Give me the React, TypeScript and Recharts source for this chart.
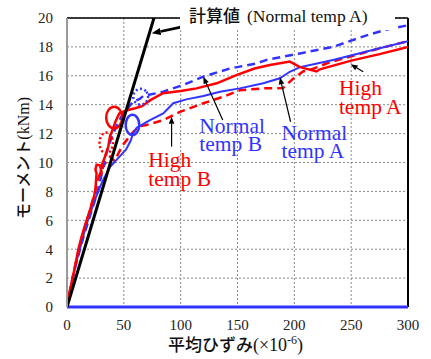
import React from 'react';
import { LineChart, Line, XAxis, YAxis, CartesianGrid, ReferenceLine, ReferenceDot } from 'recharts';

const xTicks = [0, 50, 100, 150, 200, 250, 300];
const yTicks = [0, 2, 4, 6, 8, 10, 12, 14, 16, 18, 20];

const calcLine = [{ x: 0, y: 0 }, { x: 76.5, y: 20 }];

const highTempA = [
  { x: 0, y: 0 }, { x: 1.5, y: 0.7 }, { x: 3, y: 1.3 }, { x: 5, y: 2.0 }, { x: 7.5, y: 3.0 }, { x: 10, y: 4.0 },
  { x: 13, y: 4.9 }, { x: 16, y: 5.7 }, { x: 19.5, y: 6.5 }, { x: 22, y: 7.2 }, { x: 24, y: 7.7 }, { x: 25, y: 8.1 },
  { x: 25.5, y: 8.7 }, { x: 26, y: 9.25 }, { x: 25, y: 9.5 }, { x: 26, y: 9.85 }, { x: 29, y: 9.8 }, { x: 30.5, y: 9.3 },
  { x: 29, y: 9.1 }, { x: 31, y: 9.9 }, { x: 33.4, y: 10.4 }, { x: 36.3, y: 11.1 }, { x: 37.8, y: 11.8 }, { x: 40.7, y: 12.4 },
  { x: 43, y: 12.9 }, { x: 46, y: 13.4 }, { x: 52, y: 13.6 }, { x: 60, y: 13.75 }, { x: 66, y: 13.9 }, { x: 73, y: 14.3 },
  { x: 84.4, y: 14.8 }, { x: 100, y: 14.95 }, { x: 114, y: 15.13 }, { x: 131.7, y: 15.48 }, { x: 149, y: 16.05 },
  { x: 165, y: 16.5 }, { x: 178.5, y: 16.75 }, { x: 196, y: 16.98 }, { x: 205, y: 16.6 }, { x: 219.6, y: 16.3 },
  { x: 222.5, y: 16.45 }, { x: 250, y: 17.05 }, { x: 275, y: 17.5 }, { x: 300, y: 18.0 },
];

const normalTempA = [
  { x: 0, y: 0 }, { x: 2, y: 0.8 }, { x: 4.5, y: 1.8 }, { x: 7, y: 2.7 }, { x: 9.5, y: 3.5 }, { x: 12, y: 4.2 },
  { x: 15, y: 5.1 }, { x: 18, y: 5.9 }, { x: 21, y: 6.6 }, { x: 24, y: 7.3 }, { x: 27, y: 7.9 }, { x: 29.5, y: 8.4 },
  { x: 32.5, y: 8.9 }, { x: 38, y: 9.7 }, { x: 45, y: 10.3 }, { x: 52, y: 10.9 }, { x: 56, y: 11.5 }, { x: 58, y: 12.0 },
  { x: 61.3, y: 12.4 }, { x: 73, y: 12.94 }, { x: 84.7, y: 13.4 }, { x: 93.5, y: 14.1 }, { x: 105, y: 14.37 },
  { x: 120, y: 14.6 }, { x: 134.6, y: 14.9 }, { x: 152, y: 15.13 }, { x: 172.7, y: 15.48 }, { x: 187.3, y: 15.83 },
  { x: 196, y: 16.28 }, { x: 205, y: 16.6 }, { x: 220, y: 16.85 }, { x: 234, y: 17.1 }, { x: 251.5, y: 17.44 },
  { x: 275, y: 17.9 }, { x: 300, y: 18.4 },
];

const highTempB = [
  { x: 0, y: 0 }, { x: 2, y: 0.9 }, { x: 4.5, y: 1.9 }, { x: 7, y: 2.8 }, { x: 10, y: 3.8 }, { x: 13, y: 4.8 },
  { x: 16, y: 5.6 }, { x: 19, y: 6.4 }, { x: 22, y: 7.2 }, { x: 25, y: 8.1 }, { x: 28, y: 9.0 }, { x: 31, y: 9.6 },
  { x: 34, y: 10.0 }, { x: 38, y: 10.4 }, { x: 42, y: 10.1 }, { x: 45, y: 10.6 }, { x: 49, y: 11.2 }, { x: 53, y: 11.6 },
  { x: 58, y: 12.1 }, { x: 64, y: 12.5 }, { x: 70, y: 12.6 }, { x: 79, y: 12.8 }, { x: 84.7, y: 12.94 },
  { x: 99.4, y: 13.5 }, { x: 120, y: 14.1 }, { x: 137.5, y: 14.55 }, { x: 152, y: 15.0 }, { x: 172.7, y: 15.13 },
  { x: 190, y: 15.15 }, { x: 199, y: 15.8 }, { x: 207.6, y: 16.3 }, { x: 213.7, y: 16.4 }, { x: 230, y: 16.9 },
  { x: 250, y: 17.35 }, { x: 275, y: 17.9 }, { x: 300, y: 18.4 },
];

const normalTempB = [
  { x: 0, y: 0 }, { x: 2.5, y: 1.0 }, { x: 5, y: 2.0 }, { x: 8, y: 3.0 }, { x: 11.5, y: 4.0 }, { x: 15, y: 5.0 },
  { x: 19, y: 6.0 }, { x: 23, y: 7.0 }, { x: 27, y: 8.0 }, { x: 30, y: 9.0 }, { x: 32.5, y: 10.0 }, { x: 36, y: 11.0 },
  { x: 40, y: 11.9 }, { x: 44, y: 12.6 }, { x: 48, y: 13.2 }, { x: 53, y: 13.7 }, { x: 58, y: 14.2 }, { x: 64, y: 14.4 },
  { x: 67, y: 14.6 }, { x: 79, y: 14.8 }, { x: 84.7, y: 14.9 }, { x: 102, y: 15.36 }, { x: 120, y: 15.94 },
  { x: 143, y: 16.5 }, { x: 166.8, y: 16.86 }, { x: 175.6, y: 17.1 }, { x: 205, y: 17.55 }, { x: 234, y: 18.0 },
  { x: 263.6, y: 18.8 }, { x: 281, y: 19.2 }, { x: 300, y: 19.5 },
];

// loops (closed B-spline control points)
const redLoop = [
  { x: 49.3, y: 13.11 }, { x: 47.0, y: 13.7 }, { x: 41.5, y: 13.94 }, { x: 36.0, y: 13.7 },
  { x: 33.7, y: 13.11 }, { x: 36.0, y: 12.52 }, { x: 41.5, y: 12.28 }, { x: 47.0, y: 12.52 },
];
const blueLoop = [
  { x: 64.2, y: 12.6 }, { x: 62.3, y: 13.15 }, { x: 57.6, y: 13.38 }, { x: 52.9, y: 13.15 },
  { x: 51.0, y: 12.6 }, { x: 52.9, y: 12.05 }, { x: 57.6, y: 11.82 }, { x: 62.3, y: 12.05 },
];
const redDotLoop = [
  { x: 41.0, y: 11.35 }, { x: 39.1, y: 11.91 }, { x: 34.5, y: 12.15 }, { x: 29.9, y: 11.91 },
  { x: 28.0, y: 11.35 }, { x: 29.9, y: 10.79 }, { x: 34.5, y: 10.55 }, { x: 39.1, y: 10.79 },
];
const blueDotLoop = [
  { x: 72, y: 14.55 }, { x: 69.9, y: 14.98 }, { x: 64.8, y: 15.16 }, { x: 59.7, y: 14.98 },
  { x: 57.6, y: 14.55 }, { x: 59.7, y: 14.12 }, { x: 64.8, y: 13.94 }, { x: 69.9, y: 14.12 },
];

// annotation arrows: [tail, head]
const calcArrow = [{ x: 102.3, y: 19.4 }, { x: 74.5, y: 18.94 }];
const arrowHighA = [{ x: 260.6, y: 16.28 }, { x: 249.5, y: 16.8 }];
const arrowNormalA = [{ x: 196.7, y: 12.82 }, { x: 187.3, y: 15.9 }];
const arrowNormalB = [{ x: 137, y: 12.94 }, { x: 119.9, y: 15.94 }];
const arrowHighB = [{ x: 92, y: 11.1 }, { x: 92, y: 13.17 }];

// annotation texts
const labelHighA = { x: 239.2, y: 14.67, lines: ['High', 'temp A'] };
const labelNormalA = { x: 188.8, y: 11.56, lines: ['Normal', 'temp A'] };
const labelNormalB = { x: 116.4, y: 12.06, lines: ['Normal', 'temp B'] };
const labelHighB = { x: 71.5, y: 9.67, lines: ['High', 'temp B'] };

const RED = '#ff0000';
const BLUE = '#3333ff';
const SERIF = 'Liberation Serif, DejaVu Serif, serif';
const CJK = 'Noto Sans CJK JP, sans-serif';

const arrowShape = (w: number, head: number) => (props: any) => {
  const { x1, y1, x2, y2 } = props;
  if ([x1, y1, x2, y2].some((v) => typeof v !== 'number' || isNaN(v))) return <g />;
  const ang = Math.atan2(y2 - y1, x2 - x1);
  const hx = x2 - head * Math.cos(ang);
  const hy = y2 - head * Math.sin(ang);
  const px = Math.sin(ang) * head * 0.4;
  const py = -Math.cos(ang) * head * 0.4;
  return (
    <g>
      <line x1={x1} y1={y1} x2={hx} y2={hy} stroke="#000" strokeWidth={w} />
      <polygon points={`${x2},${y2} ${hx + px},${hy + py} ${hx - px},${hy - py}`} fill="#000" />
    </g>
  );
};

const textShape = (lines: string[], color: string) => (p: any) => (
  <text x={p.cx} y={p.cy} fill={color} style={{ fontFamily: SERIF, fontSize: 21.5 }}>
    {lines.map((l, i) => (
      <tspan key={i} x={p.cx} dy={i === 0 ? 0 : 18.5}>
        {l}
      </tspan>
    ))}
  </text>
);

export default function App() {
  const lineCommon = { dataKey: 'y', dot: false, activeDot: false, isAnimationActive: false } as const;
  return (
    <div style={{ position: 'absolute', left: 0, top: 0, width: 431, height: 359, background: '#fff', fontFamily: SERIF }}>
      <LineChart width={431} height={359} margin={{ top: 18, right: 23, bottom: 0, left: 0 }} style={{ fontFamily: SERIF }}>
        <CartesianGrid stroke="#8a8a8a" strokeDasharray="2 2" strokeWidth={1} />
        <XAxis
          type="number"
          dataKey="x"
          domain={[0, 300]}
          ticks={xTicks}
          interval={0}
          height={52}
          axisLine={false}
          tickLine={false}
          tickSize={0}
          tickMargin={12}
          allowDataOverflow
          tick={{ fontSize: 15, fill: '#222', style: { fontFamily: SERIF } }}
        />
        <YAxis
          type="number"
          dataKey="y"
          domain={[0, 20]}
          ticks={yTicks}
          interval={0}
          width={67}
          axisLine={{ stroke: '#9a9a9a', strokeWidth: 2 }}
          tickLine={false}
          tickSize={0}
          tickMargin={14}
          allowDataOverflow
          tick={{ fontSize: 15, fill: '#222', style: { fontFamily: SERIF } }}
        />
        <ReferenceLine y={20} stroke="#000" strokeWidth={1.5} />
        <ReferenceLine x={300} stroke="#000" strokeWidth={2} />
        <ReferenceLine y={0} stroke={BLUE} strokeWidth={3} />

        <Line {...lineCommon} data={highTempB} type="linear" stroke={RED} strokeWidth={2.5} strokeDasharray="8 5" />
        <Line {...lineCommon} data={normalTempB} type="linear" stroke={BLUE} strokeWidth={2.5} strokeDasharray="8 5" />
        <Line {...lineCommon} data={normalTempA} type="linear" stroke={BLUE} strokeWidth={2} />
        <Line {...lineCommon} data={highTempA} type="linear" stroke={RED} strokeWidth={2.5} />
        <Line {...lineCommon} data={redLoop} type="basisClosed" stroke={RED} strokeWidth={2.5} />
        <Line {...lineCommon} data={blueLoop} type="basisClosed" stroke={BLUE} strokeWidth={2.5} />
        <Line {...lineCommon} data={redDotLoop} type="basisClosed" stroke={RED} strokeWidth={2.5} strokeDasharray="2 2.5" />
        <Line {...lineCommon} data={blueDotLoop} type="basisClosed" stroke={BLUE} strokeWidth={2.5} strokeDasharray="2 2.5" />
        <Line {...lineCommon} data={calcLine} type="linear" stroke="#000" strokeWidth={3} />

        <ReferenceLine segment={calcArrow} shape={arrowShape(2.7, 9)} />
        <ReferenceLine segment={arrowHighA} shape={arrowShape(1.2, 7)} />
        <ReferenceLine segment={arrowNormalA} shape={arrowShape(1.2, 7)} />
        <ReferenceLine segment={arrowNormalB} shape={arrowShape(1.2, 7)} />
        <ReferenceLine segment={arrowHighB} shape={arrowShape(1.2, 7)} />

        <ReferenceDot x={labelHighA.x} y={labelHighA.y} r={0} shape={textShape(labelHighA.lines, RED)} />
        <ReferenceDot x={labelNormalA.x} y={labelNormalA.y} r={0} shape={textShape(labelNormalA.lines, BLUE)} />
        <ReferenceDot x={labelNormalB.x} y={labelNormalB.y} r={0} shape={textShape(labelNormalB.lines, BLUE)} />
        <ReferenceDot x={labelHighB.x} y={labelHighB.y} r={0} shape={textShape(labelHighB.lines, RED)} />
      </LineChart>
      <svg
        width={431}
        height={359}
        style={{ position: 'absolute', left: 0, top: 0, pointerEvents: 'none' }}
      >
        <rect x={180} y={0} width={215} height={30} fill="#fff" />
        <text y={21.7} fill="#111">
          <tspan x={189} style={{ fontFamily: CJK, fontSize: 17, fontWeight: 500 }}>計算値</tspan>
          <tspan x={247} style={{ fontFamily: SERIF, fontSize: 17.5 }}>(Normal temp A)</tspan>
        </text>
        <text
          x={29}
          y={158}
          textAnchor="middle"
          transform="rotate(-90, 29, 158)"
          fill="#111"
          style={{ fontSize: 16 }}
        >
          <tspan style={{ fontFamily: CJK, fontWeight: 500 }}>モーメント</tspan>
          <tspan style={{ fontFamily: SERIF }}>(kNm)</tspan>
        </text>
        <text x={235.5} y={351} textAnchor="middle" fill="#111" style={{ fontSize: 17 }}>
          <tspan style={{ fontFamily: CJK, fontWeight: 500 }}>平均ひずみ</tspan>
          <tspan style={{ fontFamily: SERIF, fontSize: 18 }}>(×10</tspan>
          <tspan style={{ fontFamily: SERIF, fontSize: 12 }} dy={-7}>-6</tspan>
          <tspan style={{ fontFamily: SERIF, fontSize: 18 }} dy={7}>)</tspan>
        </text>
      </svg>
    </div>
  );
}
